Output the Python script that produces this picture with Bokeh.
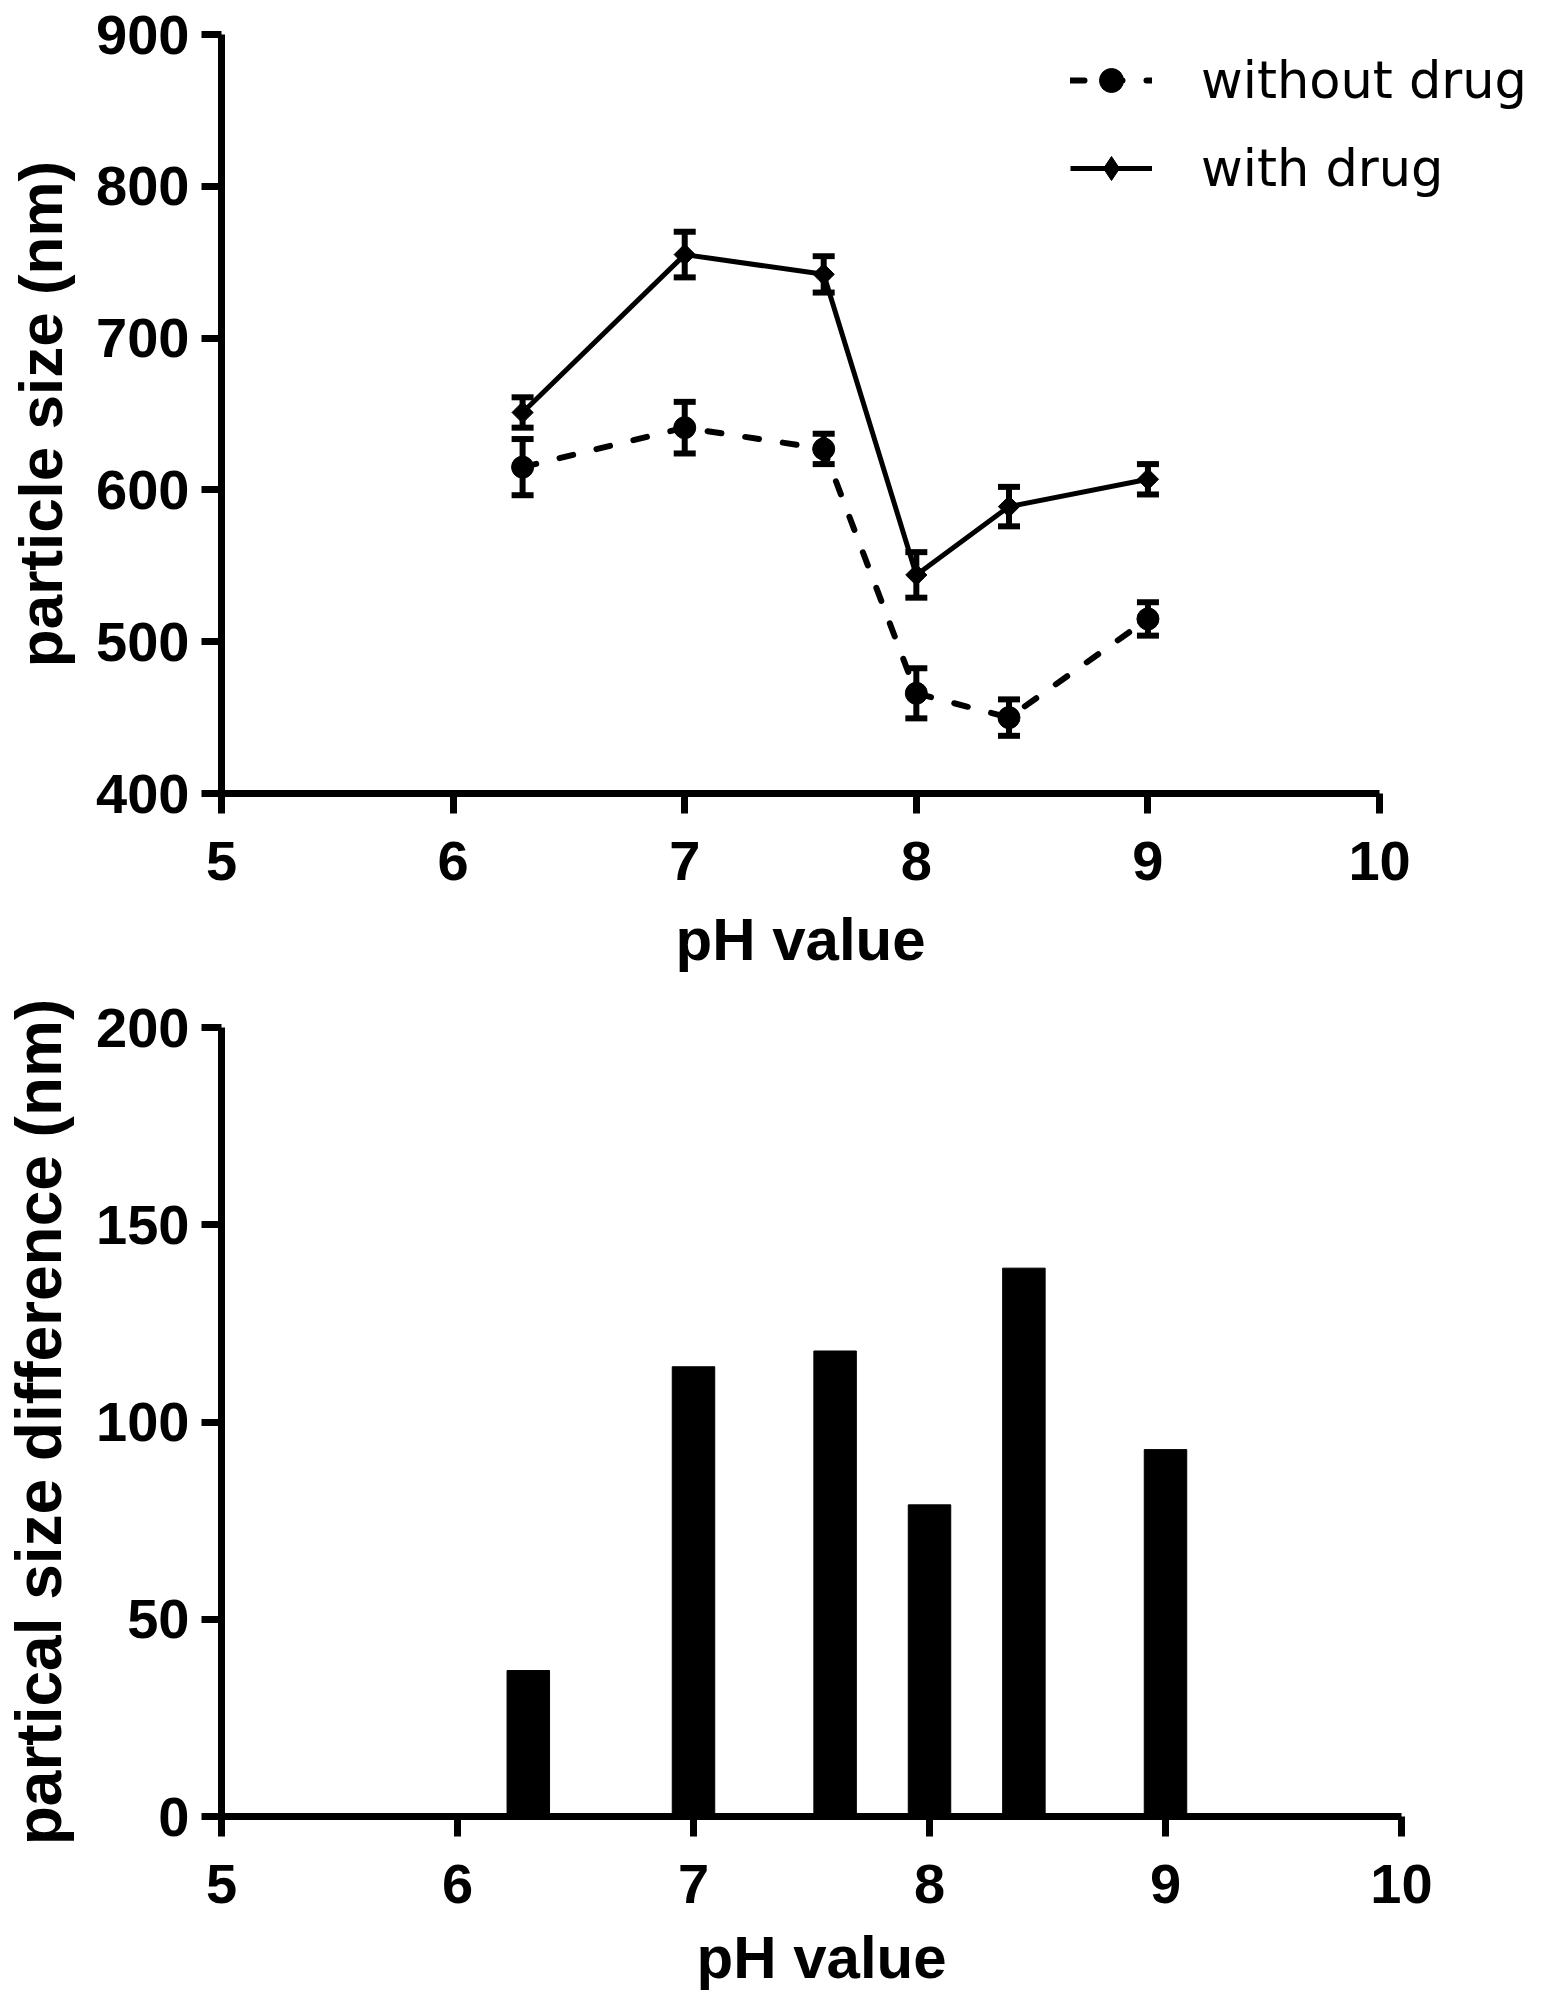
import numpy as np
from bokeh.plotting import figure
from bokeh.models import (Range1d, Whisker, TeeHead, ColumnDataSource, Legend,
                          LegendItem, FixedTicker, Title)
from bokeh.layouts import column
from bokeh.embed import file_html
from bokeh.resources import INLINE

# ---------------- data ----------------
ph = [6.3, 7.0, 7.6, 8.0, 8.4, 9.0]
without_drug = [615, 641, 627, 466, 450, 515]
without_err = [18.5, 17, 10, 16.5, 12, 11]
with_drug = [651, 755, 742, 544, 589, 607]
with_err = [10, 15, 12, 15, 13, 10]
size_diff = [37, 114, 118, 79, 139, 93]

x_ticks = [5, 6, 7, 8, 9, 10]
y1_ticks = [400, 500, 600, 700, 800, 900]
y2_ticks = [0, 50, 100, 150, 200]

FONT = "Liberation Sans"


def style(p, xticks, yticks, xlabel, xlabel_offset, ylabel, ylabel_size, s1, s2):
    p.xgrid.visible = False
    p.ygrid.visible = False
    p.outline_line_color = None
    p.xaxis.ticker = FixedTicker(ticks=xticks)
    p.yaxis.ticker = FixedTicker(ticks=yticks)
    for ax in (p.xaxis, p.yaxis):
        ax.axis_line_width = 7
        ax.axis_line_color = "black"
        ax.major_tick_line_width = 7
        ax.major_tick_line_color = "black"
        ax.major_tick_out = 20
        ax.major_tick_in = 0
        ax.minor_tick_line_color = None
        ax.major_label_text_font = FONT
        ax.major_label_text_font_style = "bold"
        ax.major_label_text_font_size = "56px"
        ax.major_label_text_color = "black"
        ax.axis_label_text_font = FONT
        ax.axis_label_text_font_style = "bold"
        ax.axis_label_text_color = "black"
    p.yaxis.axis_label = ylabel
    p.yaxis.axis_label_text_font_size = ylabel_size
    p.xaxis.major_label_standoff = s1
    p.yaxis.major_label_standoff = 12
    p.yaxis.axis_label_standoff = 18
    xt = Title(text=xlabel, align="left", offset=xlabel_offset, standoff=s2,
               text_font=FONT, text_font_style="bold", text_font_size="60px",
               text_color="black")
    p.add_layout(xt, "below")


# ---------------- top chart ----------------
p1 = figure(frame_width=1313, frame_height=759,
            min_border_left=215, min_border_top=34, min_border_right=0,
            min_border_bottom=198,
            x_range=Range1d(5, 10.669), y_range=Range1d(400, 900),
            output_backend="svg", toolbar_location=None)
style(p1, x_ticks, y1_ticks, "pH value", 454, "particle size (nm)", "62px", 28, 42)
p1.xaxis.bounds = (5, 10)

src_wo = ColumnDataSource(dict(
    x=ph, y=without_drug,
    lo=[v - e for v, e in zip(without_drug, without_err)],
    hi=[v + e for v, e in zip(without_drug, without_err)]))
src_w = ColumnDataSource(dict(
    x=ph, y=with_drug,
    lo=[v - e for v, e in zip(with_drug, with_err)],
    hi=[v + e for v, e in zip(with_drug, with_err)]))

l_wo = p1.line("x", "y", source=src_wo, line_color="black", line_width=6,
               line_dash="14 24", line_cap="round")
l_w = p1.line("x", "y", source=src_w, line_color="black", line_width=5)

for src in (src_wo, src_w):
    w = Whisker(base="x", lower="lo", upper="hi", source=src,
                line_color="black", line_width=6,
                upper_head=TeeHead(size=22, line_width=6, line_color="black"),
                lower_head=TeeHead(size=22, line_width=6, line_color="black"))
    p1.add_layout(w)

s_wo = p1.scatter("x", "y", source=src_wo, marker="circle", size=22,
                  fill_color="black", line_color="black")
s_w = p1.scatter("x", "y", source=src_w, marker="square", size=15,
                 angle=np.pi / 4, fill_color="black", line_color="black")
# diamond marker used only for the legend swatch
s_w_leg = p1.scatter("x", "y", source=src_w, marker="diamond", size=26,
                     fill_color="black", line_color="black", visible=False)

legend = Legend(items=[LegendItem(label="without drug", renderers=[l_wo, s_wo]),
                       LegendItem(label="with drug", renderers=[l_w, s_w_leg])],
                location=(852, 595))
legend.border_line_alpha = 0
legend.background_fill_alpha = 0
legend.padding = 0
legend.margin = 0
legend.glyph_width = 82
legend.glyph_height = 60
legend.label_height = 60
legend.spacing = 28
legend.label_standoff = 49
legend.label_text_font = "DejaVu Sans"
legend.label_text_font_size = "51px"
legend.label_text_color = "black"
p1.add_layout(legend)

# ---------------- bottom chart ----------------
p2 = figure(frame_width=1180, frame_height=789,
            min_border_left=218, min_border_top=34, min_border_right=130,
            min_border_bottom=186,
            x_range=Range1d(5, 10), y_range=Range1d(0, 200),
            output_backend="svg", toolbar_location=None)
style(p2, x_ticks, y2_ticks, "pH value", 475, "partical size difference (nm)", "64px", 28, 32)

p2.vbar(x=ph, top=size_diff, width=0.18, bottom=0,
        fill_color="black", line_color="black")

layout = column(p1, p2, spacing=0)

open("out.html", "w").write(file_html(layout, INLINE))
